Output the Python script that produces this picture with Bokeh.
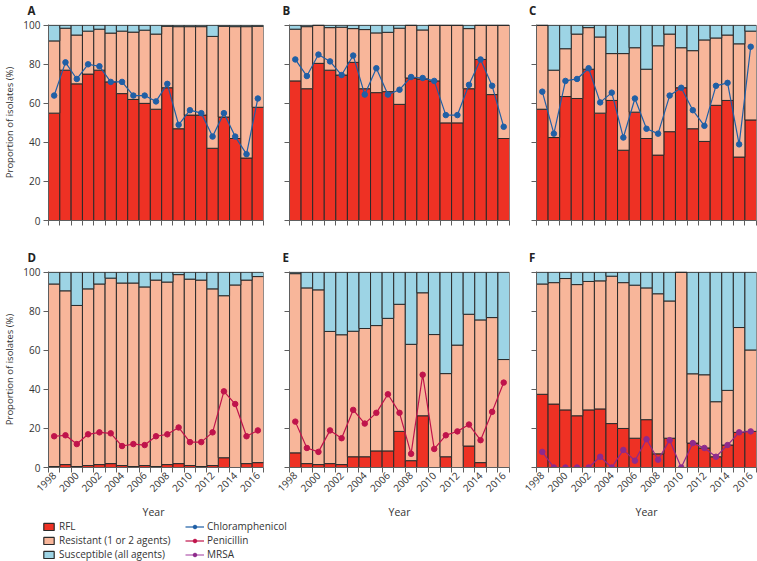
import math
from bokeh.plotting import figure
from bokeh.models import Range1d, FixedTicker, Legend, LegendItem, ColumnDataSource
from bokeh.core.properties import value
from bokeh.layouts import column, row
from bokeh.embed import file_html
from bokeh.resources import INLINE

# ---------------- data ----------------
years = list(range(1998, 2017))
year_ticks = list(range(1998, 2017, 2))
edges = [y - 0.5 for y in range(1998, 2018)]
y_ticks = [0, 20, 40, 60, 80, 100]
letters_top = ["A", "B", "C"]
letters_bottom = ["D", "E", "F"]
x_title = "Year"
y_title = "Proportion of isolates (%)"

# Panel A
rfl_A = [55, 77, 70, 75, 77, 71, 65, 62, 60, 57, 68, 47, 54, 54, 37, 53, 42, 32, 58]
res_A = [37, 21.5, 25, 22, 21, 25, 32, 34.5, 37.5, 38.5, 31.5, 52.3, 45.3, 45.3, 57.3, 46.5, 57.3, 67.3, 41.5]
sus_A = [8, 1.5, 5, 3, 2, 4, 3, 3.5, 2.5, 4.5, 0.5, 0.7, 0.7, 0.7, 5.7, 0.5, 0.7, 0.7, 0.5]
chl_A = [64, 81, 72.5, 80, 79, 71, 71, 64, 64, 61, 70, 49, 56.5, 55, 43, 55, 43, 34, 62.5]

# Panel B
rfl_B = [71.5, 67.5, 80.5, 77, 74.5, 81, 67.5, 65.5, 66, 59.5, 73, 72.5, 71.5, 50, 50, 67.5, 82.5, 64.5, 42]
res_B = [26.5, 31.8, 19.5, 21.8, 24.5, 17.3, 30.3, 30.6, 30.4, 39, 27, 25.1, 28.5, 50, 50, 30.8, 17.5, 35.5, 58]
sus_B = [2, 0.7, 0, 1.2, 1, 1.7, 2.2, 3.9, 3.6, 1.5, 0, 2.4, 0, 0, 0, 1.7, 0, 0, 0]
chl_B = [82.5, 74, 85, 81.5, 74.5, 84.5, 64.5, 78, 64.5, 67, 73.5, 73, 71.5, 54, 54, 69.5, 82.5, 69, 48]

# Panel C
rfl_C = [57, 42.5, 63.5, 62.5, 77.5, 55, 61.5, 36, 55.5, 42, 33.5, 45.5, 68, 47, 40.5, 59, 61.5, 32.5, 51.5]
res_C = [43, 34.5, 24.5, 33, 21.3, 39, 24, 49.5, 33, 35.5, 56, 50, 20.5, 40, 52, 34.5, 33.5, 58, 45.5]
sus_C = [0, 23, 12, 4.5, 1.2, 6, 14.5, 14.5, 11.5, 22.5, 10.5, 4.5, 11.5, 13, 7.5, 6.5, 5, 9.5, 3]
chl_C = [66, 44.5, 71.5, 72.5, 78, 60.5, 65.5, 42.5, 62.5, 47, 44.5, 64, 68, 56.5, 48.5, 69, 70.5, 39, 89]

# Panel D
rfl_D = [0.5, 1.5, 0.5, 1, 1.5, 2, 1, 0.5, 1, 0.5, 1.5, 2, 1, 0.5, 1, 5, 0, 2, 2.5]
res_D = [93.5, 89, 82.5, 90.5, 92.5, 95, 93.5, 94, 91.5, 95.5, 93.5, 96.8, 95.5, 95.5, 90.5, 83, 93.5, 94, 95.3]
sus_D = [6, 9.5, 17, 8.5, 6, 3, 5.5, 5.5, 7.5, 4, 5, 1.2, 3.5, 4, 8.5, 12, 6.5, 4, 2.2]
pen_D = [16, 16.5, 12, 17, 18, 17.5, 11, 12, 11.5, 16, 17, 20.5, 13, 13, 18, 39, 32.5, 16, 19]

# Panel E
rfl_E = [7.5, 2, 1.5, 2, 1.5, 5.5, 5.5, 8.5, 8.5, 18.5, 3.5, 26.5, 0, 5.5, 0, 11, 2.5, 0, 0]
res_E = [91.8, 90, 89.5, 67.7, 66.5, 64.3, 65.7, 64.2, 67.9, 65.1, 59.6, 63, 68.1, 42.6, 62.7, 67.5, 73.1, 76.8, 55.3]
sus_E = [0.7, 8, 9, 30.3, 32, 30.2, 28.8, 27.3, 23.6, 16.4, 36.9, 10.5, 31.9, 51.9, 37.3, 21.5, 24.4, 23.2, 44.7]
pen_E = [23.5, 10, 8, 19, 15, 29.5, 22.5, 28, 37.5, 28, 7, 47.5, 9.5, 16.5, 18.5, 22, 14, 28.5, 43.5]

# Panel F
rfl_F = [37.5, 32.5, 29.5, 26.5, 29.5, 30, 22.5, 20, 15, 24.5, 7, 15, 0, 12.5, 10, 5.5, 11.5, 18, 18.5]
res_F = [56.5, 62.2, 67.3, 67.2, 65.8, 65.6, 75.5, 74.7, 78.4, 67.5, 82, 70.3, 100, 35.5, 37.5, 28.2, 28, 53.7, 41.7]
sus_F = [6, 5.3, 3.2, 6.3, 4.7, 4.4, 2, 5.3, 6.6, 8, 11, 14.7, 0, 52, 52.5, 66.3, 60.5, 28.3, 39.8]
mrsa_F = [8, 0, 0, 0, 0, 5.5, 0, 9, 3.5, 14.5, 4, 14, 0, 12.5, 10, 5.5, 11.5, 18, 18.5]

# ---------------- style / layout ----------------
FONT = "Open Sans"
C_RFL = "#EE3124"
C_RES = "#F8B69A"
C_SUS = "#9DD4E5"
C_CHL = "#1F5FA6"
C_PEN = "#C0134B"
C_MRSA = "#8E2A8C"
OUTLINE = "#2a2a2a"
AXIS = "#5e5e5e"
TEXT = "#333333"

PAGE_W, PAGE_H = 757, 561
FW, FH = 220, 196
COLS = [(43, 9), (17, 10), (17, 1)]       # (left, right) borders -> frames at 43, 289, 536
LETTER_DX = [-16, -7, -7.5]
HDR1_H, HDR2_H = 18, 25
TOP_B, ROW1_BOTTOM, ROW2_BOTTOM = 6, 20, 33
ROW1_H = TOP_B + FH + ROW1_BOTTOM
ROW2_H = TOP_B + FH + ROW2_BOTTOM
FOOT_H = PAGE_H - (HDR1_H + ROW1_H + HDR2_H + ROW2_H)


def frame_lefts():
    out, x = [], 0
    for bl, br in COLS:
        out.append(x + bl)
        x += bl + FW + br
    return out


def strip(height):
    s = figure(width=PAGE_W, height=height,
               x_range=Range1d(0, PAGE_W), y_range=Range1d(0, height),
               output_backend="svg", toolbar_location=None, min_border=0,
               x_axis_location=None, y_axis_location=None, outline_line_color=None)
    s.grid.visible = False
    return s


def header(letters, height, baseline_from_bottom):
    h = strip(height)
    xs = [fl + dx for fl, dx in zip(frame_lefts(), LETTER_DX)]
    src = ColumnDataSource(dict(x=xs, y=[baseline_from_bottom] * 3, t=letters))
    h.text(x="x", y="y", text="t", source=src, text_font=value(FONT),
           text_font_size="11.5px", text_font_style="bold", text_color="#222222",
           text_align="left", text_baseline="alphabetic")
    return h


def make_panel(rfl, res, sus, line_vals, line_color, col, bottom_row):
    b_left, b_right = COLS[col]
    left_col = col == 0
    p = figure(width=b_left + FW + b_right, height=ROW2_H if bottom_row else ROW1_H,
               x_range=Range1d(1997.5, 2016.5), y_range=Range1d(0, 100.4),
               output_backend="svg", toolbar_location=None,
               min_border_left=b_left, min_border_right=b_right,
               min_border_top=TOP_B,
               min_border_bottom=ROW2_BOTTOM if bottom_row else ROW1_BOTTOM,
               outline_line_color=None, background_fill_color="white")
    p.grid.visible = False

    src = ColumnDataSource(dict(year=years, rfl=rfl, res=res, sus=sus, line=line_vals))
    p.vbar_stack(["rfl", "res", "sus"], x="year", width=1, source=src,
                 fill_color=[C_RFL, C_RES, C_SUS], line_color=OUTLINE, line_width=1)
    p.line(x="year", y="line", source=src, line_color=line_color, line_width=1.2)
    p.scatter(x="year", y="line", source=src, size=5.5, fill_color=line_color,
              line_color=line_color)

    # x axis: boundary ticks as minor ticks, year labels (bottom row) as invisible majors
    xa = p.xaxis[0]
    xa.ticker = FixedTicker(ticks=year_ticks if bottom_row else [], minor_ticks=edges)
    xa.axis_line_color = AXIS
    xa.major_tick_out = 0
    xa.major_tick_in = 0
    xa.minor_tick_out = 5
    xa.minor_tick_in = 0
    xa.minor_tick_line_color = AXIS
    xa.major_label_text_font = FONT
    xa.major_label_text_font_size = "10px"
    xa.major_label_text_color = TEXT
    if bottom_row:
        xa.major_label_overrides = {y: str(y) for y in year_ticks}
        xa.major_label_orientation = math.pi / 4
        xa.major_label_standoff = 1

    # y axis
    ya = p.yaxis[0]
    if left_col:
        ya.ticker = FixedTicker(ticks=y_ticks)
        ya.major_tick_out = 5
        ya.axis_label = y_title
        ya.axis_label_text_font = FONT
        ya.axis_label_text_font_size = "9.5px"
        ya.axis_label_text_font_style = "normal"
        ya.axis_label_text_color = TEXT
        ya.axis_label_standoff = 4
    else:
        ya.ticker = FixedTicker(ticks=[], minor_ticks=y_ticks)
        ya.major_tick_out = 0
    ya.major_tick_in = 0
    ya.minor_tick_out = 0 if left_col else 5
    ya.minor_tick_in = 0
    ya.axis_line_color = AXIS
    ya.major_tick_line_color = AXIS
    ya.minor_tick_line_color = AXIS
    ya.major_label_standoff = 3
    ya.major_label_text_font = FONT
    ya.major_label_text_font_size = "10px"
    ya.major_label_text_color = TEXT
    return p


hdr1 = header(letters_top, HDR1_H, 8)
pA = make_panel(rfl_A, res_A, sus_A, chl_A, C_CHL, 0, False)
pB = make_panel(rfl_B, res_B, sus_B, chl_B, C_CHL, 1, False)
pC = make_panel(rfl_C, res_C, sus_C, chl_C, C_CHL, 2, False)
hdr2 = header(letters_bottom, HDR2_H, 8)
pD = make_panel(rfl_D, res_D, sus_D, pen_D, C_PEN, 0, True)
pE = make_panel(rfl_E, res_E, sus_E, pen_E, C_PEN, 1, True)
pF = make_panel(rfl_F, res_F, sus_F, mrsa_F, C_MRSA, 2, True)

# ---------------- footer: x-axis titles + legend ----------------
pl = strip(FOOT_H)
xt = ColumnDataSource(dict(x=[fl + FW / 2 for fl in frame_lefts()],
                           y=[FOOT_H - 11] * 3, t=[x_title] * 3))
pl.text(x="x", y="y", text="t", source=xt, text_font=value(FONT),
        text_font_size="10.5px", text_color=TEXT, text_align="center",
        text_baseline="alphabetic")

# proxy renderers (outside the visible range) that only feed the legend swatches
far_x, far_y = [-50, -40], [-50, -50]
r_rfl = pl.vbar(x=far_x, top=far_y, width=1, fill_color=C_RFL, line_color=OUTLINE, line_width=1.2)
r_res = pl.vbar(x=far_x, top=far_y, width=1, fill_color=C_RES, line_color=OUTLINE, line_width=1.2)
r_sus = pl.vbar(x=far_x, top=far_y, width=1, fill_color=C_SUS, line_color=OUTLINE, line_width=1.2)
l_chl = pl.line(x=far_x, y=far_y, line_color=C_CHL, line_width=1.2)
s_chl = pl.scatter(x=far_x, y=far_y, size=5.5, fill_color=C_CHL, line_color=C_CHL)
l_pen = pl.line(x=far_x, y=far_y, line_color=C_PEN, line_width=1.2)
s_pen = pl.scatter(x=far_x, y=far_y, size=5.5, fill_color=C_PEN, line_color=C_PEN)
l_mrsa = pl.line(x=far_x, y=far_y, line_color="#B05AAE", line_width=1.2)
s_mrsa = pl.scatter(x=far_x, y=far_y, size=5.5, fill_color=C_MRSA, line_color=C_MRSA)


def styled_legend(items, loc, gw, standoff):
    return Legend(items=items, location=loc, orientation="vertical",
                  glyph_width=gw, glyph_height=9, label_height=12, spacing=-2,
                  label_standoff=standoff, padding=0, margin=0,
                  border_line_color=None, background_fill_alpha=0,
                  label_text_font=FONT, label_text_font_size="10px",
                  label_text_color=TEXT)


leg1 = styled_legend([LegendItem(label="RFL", renderers=[r_rfl]),
                      LegendItem(label="Resistant (1 or 2 agents)", renderers=[r_res]),
                      LegendItem(label="Susceptible (all agents)", renderers=[r_sus])],
                     (42, 0), 13, 4)
leg2 = styled_legend([LegendItem(label="Chloramphenicol", renderers=[l_chl, s_chl]),
                      LegendItem(label="Penicillin", renderers=[l_pen, s_pen]),
                      LegendItem(label="MRSA", renderers=[l_mrsa, s_mrsa])],
                     (185, 0), 19, 3)
pl.add_layout(leg1)
pl.add_layout(leg2)

layout = column(hdr1, row(pA, pB, pC), hdr2, row(pD, pE, pF), pl)

open("out.html", "w").write(file_html(layout, INLINE))
